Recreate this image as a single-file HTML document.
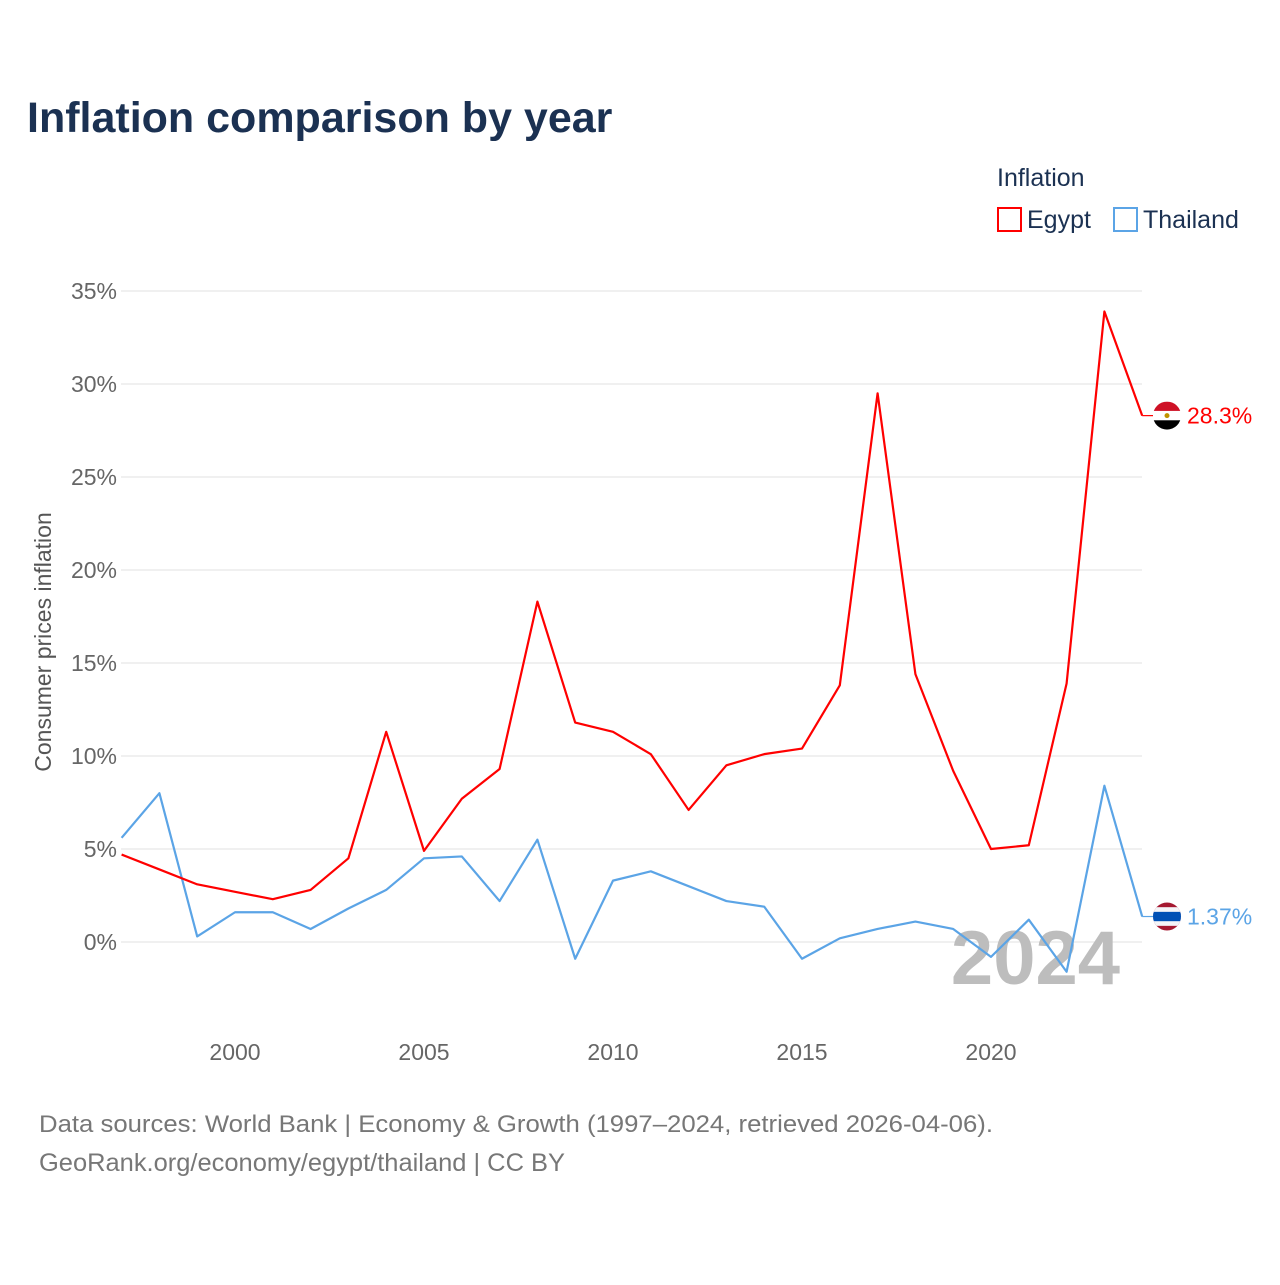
<!DOCTYPE html>
<html><head><meta charset="utf-8">
<style>
body{margin:0;background:#fff;width:1280px;height:1280px;overflow:hidden;font-family:"Liberation Sans",sans-serif;}
</style></head>
<body>
<svg id="chart" width="1280" height="1280" xmlns="http://www.w3.org/2000/svg">
<text x="27" y="132" font-size="43" font-weight="bold" fill="#1b3152">Inflation comparison by year</text>
<text x="997" y="186" font-size="25" fill="#1b3152">Inflation</text>
<g><rect x="998" y="208" width="23" height="23" fill="none" stroke="#ff0000" stroke-width="2"/><text x="1027" y="228" font-size="25" fill="#1b3152">Egypt</text></g>
<g><rect x="1114" y="208" width="23" height="23" fill="none" stroke="#5ba4e6" stroke-width="2"/><text x="1143" y="228" font-size="25" fill="#1b3152">Thailand</text></g>
<text transform="translate(51,642) rotate(-90)" text-anchor="middle" font-size="23" fill="#555">Consumer prices inflation</text>
<g id="grid"></g>
<text x="1120" y="984" text-anchor="end" font-size="76" font-weight="bold" fill="#bdbdbd">2024</text>
<g id="series"></g>
<text x="39" y="1132" font-size="24" fill="#777" textLength="954" lengthAdjust="spacingAndGlyphs">Data sources: World Bank | Economy &amp; Growth (1997–2024, retrieved 2026-04-06).</text>
<text x="39" y="1171" font-size="25" fill="#777" textLength="526" lengthAdjust="spacingAndGlyphs">GeoRank.org/economy/egypt/thailand | CC BY</text>
</svg>
<script>
const years=[1997,1998,1999,2000,2001,2002,2003,2004,2005,2006,2007,2008,2009,2010,2011,2012,2013,2014,2015,2016,2017,2018,2019,2020,2021,2022,2023,2024];
const egypt=[4.7,3.9,3.1,2.7,2.3,2.8,4.5,11.3,4.9,7.7,9.3,18.3,11.8,11.3,10.1,7.1,9.5,10.1,10.4,13.8,29.5,14.4,9.2,5.0,5.2,13.9,33.9,28.3];
const thailand=[5.6,8.0,0.3,1.6,1.6,0.7,1.8,2.8,4.5,4.6,2.2,5.5,-0.9,3.3,3.8,3.0,2.2,1.9,-0.9,0.2,0.7,1.1,0.7,-0.8,1.2,-1.6,8.4,1.37];
const yTicks=[0,5,10,15,20,25,30,35];
const xTicks=[2000,2005,2010,2015,2020];
const endLabels=["28.3%","1.37%"];
const NS="http://www.w3.org/2000/svg";
const x=v=>121.6+(v-1997)*37.8;
const y=v=>942-v*18.6;
const grid=document.getElementById('grid'),ser=document.getElementById('series');
function mk(tag,attrs,parent,txt){const e=document.createElementNS(NS,tag);for(const k in attrs)e.setAttribute(k,attrs[k]);if(txt!==undefined)e.textContent=txt;parent.appendChild(e);return e;}
yTicks.forEach(t=>{
 const l=mk('line',{x1:121,x2:1142,y1:y(t),y2:y(t),stroke:'#e6e6e6','stroke-width':1.3},grid);
 
 
 const tx=mk('text',{x:117,y:y(t)+8,'text-anchor':'end','font-size':23,fill:'#666'},grid,t+'%');
 
 
});
xTicks.forEach(t=>{
 const tx=mk('text',{x:x(t),y:1060,'text-anchor':'middle','font-size':23,fill:'#666'},grid,String(t));
 
 
});
function line(vals,color,name,label){
 const pts=vals.map((v,i)=>x(years[i])+','+y(v)).join(' ');
 const p=mk('polyline',{points:pts,fill:'none',stroke:color,'stroke-width':2.2,'stroke-linejoin':'round'},ser);
 
 
 const last=vals[vals.length-1],ly=y(last),lx=x(years[years.length-1]);
 mk('line',{x1:lx,x2:1153,y1:ly,y2:ly,stroke:color,'stroke-width':1.2},ser);
 const g=mk('g',{},ser);
 
 
 const cx=1167,r=14;
 const cp=mk('clipPath',{id:'c'+name},g);mk('circle',{cx:cx,cy:ly,r:r},cp);
 const gg=mk('g',{'clip-path':'url(#c'+name+')'},g);
 if(name==='egypt'){
  mk('rect',{x:cx-r,y:ly-r,width:2*r,height:r*2/3,fill:'#ce1126'},gg);
  mk('rect',{x:cx-r,y:ly-r/3,width:2*r,height:r*2/3,fill:'#fff'},gg);
  mk('rect',{x:cx-r,y:ly+r/3,width:2*r,height:r*2/3,fill:'#000'},gg);
  mk('circle',{cx:cx,cy:ly,r:2.5,fill:'#c09300'},gg);
 }else{
  const h=2*r/6;
  mk('rect',{x:cx-r,y:ly-r,width:2*r,height:2*r,fill:'#a51931'},gg);
  mk('rect',{x:cx-r,y:ly-r+h,width:2*r,height:4*h,fill:'#f4f5f8'},gg);
  mk('rect',{x:cx-r,y:ly-h,width:2*r,height:2*h,fill:'#0050b5'},gg);
 }
 const t=mk('text',{x:1187,y:ly+8,'font-size':23,fill:color},ser,label);
 
 
}
line(thailand,'#5ba4e6','thailand',endLabels[1]);
line(egypt,'#ff0000','egypt',endLabels[0]);
</script>
</body></html>
